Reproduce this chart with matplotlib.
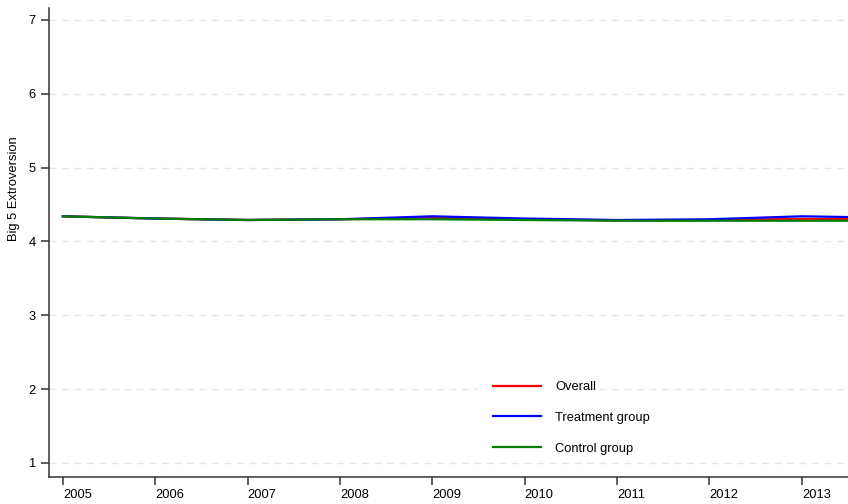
import matplotlib
matplotlib.use('Agg')
import matplotlib.pyplot as plt
from matplotlib.patches import Rectangle

# yearly means of the extroversion score
years = [2005, 2006, 2007, 2008, 2009, 2010, 2011, 2012, 2013, 2014]
overall = [4.34, 4.31, 4.29, 4.30, 4.315, 4.30, 4.285, 4.29, 4.305, 4.30]
treatment = [4.34, 4.31, 4.29, 4.30, 4.34, 4.31, 4.29, 4.30, 4.34, 4.32]
control = [4.34, 4.31, 4.29, 4.30, 4.30, 4.29, 4.28, 4.28, 4.28, 4.28]

y_ticks = [1, 2, 3, 4, 5, 6, 7]
x_ticks = [2005, 2006, 2007, 2008, 2009, 2010, 2011, 2012, 2013]

plt.rcParams['font.family'] = ['Liberation Sans', 'DejaVu Sans']
fs = 9.3

fig = plt.figure(figsize=(8.48, 5.04), dpi=100)
ax = fig.add_axes([0.0578, 0.0536, 0.9422, 0.9304])

ax.plot(years, overall, color='#ff0000', lw=1.6, label='Overall', zorder=3)
ax.plot(years, treatment, color='#0000ff', lw=1.6, label='Treatment group', zorder=4)
ax.plot(years, control, color='#008000', lw=1.6, label='Control group', zorder=5)

ax.set_xlim(2004.85, 2013.5)
ax.set_ylim(0.81, 7.16)
ax.set_yticks(y_ticks)
ax.set_xticks(x_ticks)
ax.set_xticklabels([str(y) for y in x_ticks])
for lbl in ax.get_xticklabels():
    lbl.set_ha('left')

for y in y_ticks:
    ax.axhline(y, color='#e6e6e6', lw=1.0, dashes=(5, 4), zorder=1)

for side in ['top', 'right']:
    ax.spines[side].set_visible(False)
for side in ['left', 'bottom']:
    ax.spines[side].set_color('#333333')
    ax.spines[side].set_linewidth(1.1)

ax.tick_params(axis='y', direction='out', length=6, width=1.1, color='#333333',
               labelsize=fs, pad=3.5)
ax.tick_params(axis='x', direction='out', length=5.8, width=1.1, color='#333333',
               labelsize=fs, pad=2.5)
ax.set_ylabel('Big 5 Extroversion', fontsize=fs)
ax.yaxis.set_label_coords(-0.036, 0.614)

# white patch behind the legend keys
ax.add_patch(Rectangle((0.537, 0.05), 0.109, 0.165, transform=ax.transAxes,
                       facecolor='white', edgecolor='none', zorder=2))

leg = ax.legend(loc='center left', bbox_to_anchor=(0.5415, 0.126), frameon=False,
                fontsize=fs, handlelength=3.7, handletextpad=1.1,
                labelspacing=1.45, borderpad=0.4)
leg.set_zorder(10)

fig.savefig('out.png', dpi=100)
